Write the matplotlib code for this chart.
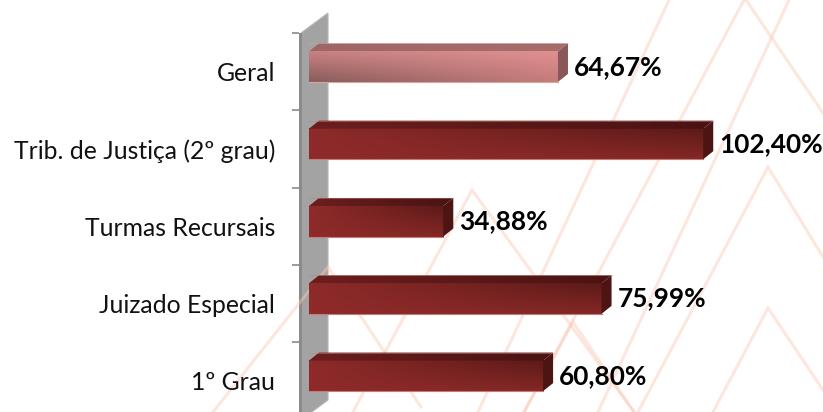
import matplotlib
matplotlib.use("Agg")
import matplotlib.pyplot as plt
import numpy as np
from matplotlib.patches import Polygon

categories = ["1º Grau", "Juizado Especial", "Turmas Recursais", "Trib. de Justiça (2º grau)", "Geral"]
values = [60.80, 75.99, 34.88, 102.40, 64.67]
value_labels = ["60,80%", "75,99%", "34,88%", "102,40%", "64,67%"]

W, H = 823, 412
PX_PER_UNIT = 3.85
PX_PER_CAT = 77.25
DX = 10 / PX_PER_UNIT
DY = 8 / PX_PER_CAT
BAR_H = 30.5 / PX_PER_CAT
SHIFT = 5 / PX_PER_CAT

# corner colours of the front face: top left, top right, bottom left, bottom right
DARK = dict(front=("#8e2a2a", "#5c1a18", "#8e2a2a", "#842826"), top=("#6c1e1e", "#4a1312"), side="#4c1413", edge="#c47c78")
LIGHT = dict(front=("#c98282", "#df908f", "#8a5c5c", "#c57c7b"), top=("#9e6664", "#a66d6b"), side="#8a5858", edge="#d9a5a3")

# background pattern, in pixels
pattern = [
    [(669, 0), (478, 412)], [(744, 0), (524, 412)], [(789, 0), (598, 412)],
    [(746, 0), (823, 113)], [(638, 412), (768, 167), (823, 257)],
    [(713, 412), (768, 308), (823, 390)], [(353, 412), (472, 190), (634, 412)],
    [(524, 412), (573, 322), (634, 412)], [(213, 412), (328, 267), (421, 407)],
]


def rgb(c):
    return np.array(matplotlib.colors.to_rgb(c))


def shade(corners, n=40):
    tl, tr, bl, br = [rgb(c) for c in corners]
    u = np.linspace(0, 1, n)[None, :, None]
    v = np.linspace(0, 1, n)[:, None, None]
    return (1 - v) * ((1 - u) * tl + u * tr) + v * ((1 - u) * bl + u * br)


fig = plt.figure(figsize=(W / 100, H / 100), dpi=100)
plt.rcParams["font.family"] = ["Lato", "DejaVu Sans"]

bg = fig.add_axes([0, 0, 1, 1], zorder=0)
bg.set_xlim(0, W)
bg.set_ylim(H, 0)
bg.axis("off")
for line in pattern:
    xs, ys = zip(*line)
    bg.plot(xs, ys, color="#f9c9b6", alpha=0.45, lw=2.2, solid_joinstyle="miter")

# the grey wall behind the bars
bg.add_patch(Polygon([(301, 33), (328, 13), (328, 400), (301, 420)], fc="#a3a3a3", ec="#b5b5b5", lw=0.8))
bg.add_patch(Polygon([(299, 33), (302, 33), (302, 420), (299, 420)], fc="#8b8b8b", ec="none"))

ax = fig.add_axes([299 / W, 0, (W - 299) / W, (H - 33) / H], zorder=1)
ax.patch.set_alpha(0)

for i, (v, lab) in enumerate(zip(values, value_labels)):
    st = LIGHT if categories[i] == "Geral" else DARK
    y0 = i + SHIFT - BAR_H / 2
    y1 = i + SHIFT + BAR_H / 2
    ax.imshow(shade(st["front"]), extent=[0, v, y0, y1], origin="upper", aspect="auto", interpolation="bilinear", zorder=3)
    top = Polygon([(0, y1), (v, y1), (v + DX, y1 + DY), (DX, y1 + DY)], fc="none", ec="none")
    ax.add_patch(top)
    im = ax.imshow(shade((st["top"][0], st["top"][1], st["top"][0], st["top"][1])),
                   extent=[0, v + DX, y1, y1 + DY], origin="upper", aspect="auto", interpolation="bilinear", zorder=3)
    im.set_clip_path(top)
    ax.add_patch(Polygon([(v, y0), (v + DX, y0 + DY), (v + DX, y1 + DY), (v, y1)], fc=st["side"], ec="none", zorder=3))
    ax.plot([0, v], [y0, y0], color=st["edge"], lw=0.8, zorder=4)
    ax.plot([0, v + DX], [y1 + DY, y1 + DY], color=st["edge"], lw=0.5, alpha=0.7, zorder=4)
    ax.annotate(lab, (v, i + SHIFT), xytext=(16 * 0.72, 0), textcoords="offset points",
                va="center", ha="left", fontsize=18.9, fontweight="bold", color="black", zorder=5)

ax.set_xlim(-10 / PX_PER_UNIT, (W - 309) / PX_PER_UNIT)
ax.set_ylim(-0.5 + 7.5 / PX_PER_CAT, 4.5)
ax.set_xticks([])
ax.set_yticks(range(len(categories)))
ax.set_yticklabels(categories, fontsize=17.8, color="#111111")
ax.set_yticks(np.arange(0.5, 5), minor=True)
ax.tick_params(axis="y", which="major", length=0, pad=24 * 0.72)
ax.tick_params(axis="y", which="minor", length=7 * 0.72, width=1.2, color="#8b8b8b")
for s in ax.spines.values():
    s.set_visible(False)

fig.savefig("out.png", dpi=100)
